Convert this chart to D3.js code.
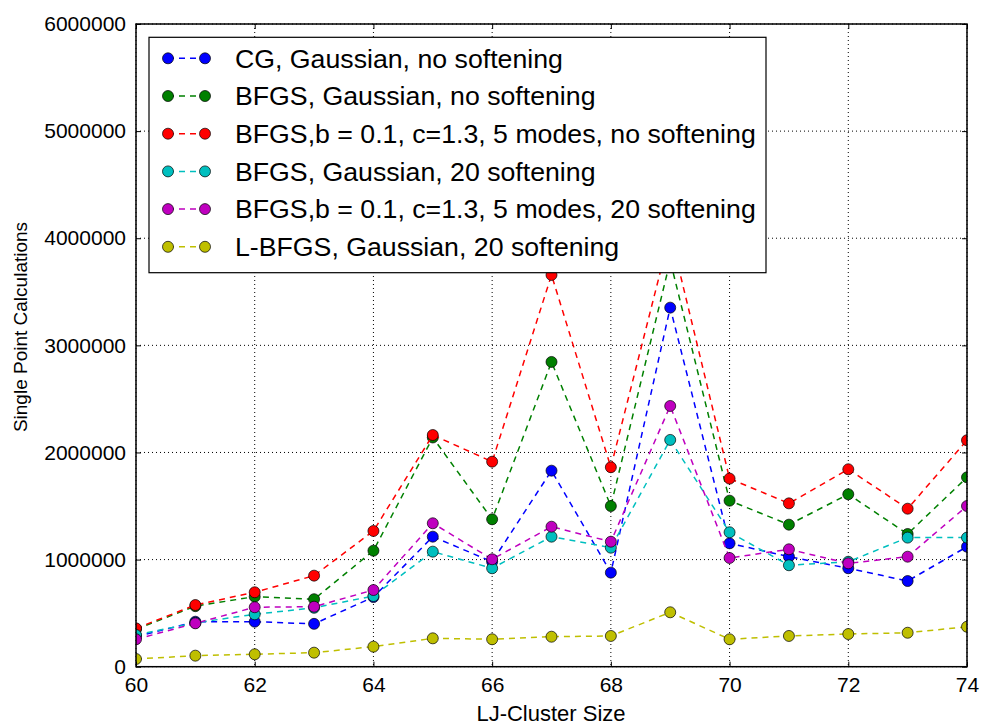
<!DOCTYPE html>
<html>
<head>
<meta charset="utf-8">
<script src="https://cdn.jsdelivr.net/npm/d3@7"></script>
<style>
  html, body { margin: 0; padding: 0; background: #fff; }
  svg { display: block; font-family: "Liberation Sans", Arial, Helvetica, sans-serif; }
</style>
</head>
<body>
<svg id="chart" width="982" height="727"></svg>
<script>
const sizes = [60, 61, 62, 63, 64, 65, 66, 67, 68, 69, 70, 71, 72, 73, 74];
const cgGaussNoSoft    = [0.28, 0.42, 0.42, 0.40, 0.65, 1.214, 0.98, 1.83, 0.878, 3.352, 1.152, 1.027, 0.919, 0.80, 1.12];
const bfgsGaussNoSoft  = [0.35, 0.565, 0.654, 0.63, 1.083, 2.14, 1.376, 2.845, 1.50, 3.79, 1.55, 1.326, 1.61, 1.239, 1.768];
const bfgsModesNoSoft  = [0.358, 0.576, 0.695, 0.85, 1.267, 2.163, 1.914, 3.657, 1.862, 4.05, 1.756, 1.525, 1.843, 1.475, 2.114];
const bfgsGauss20Soft  = [0.296, 0.41, 0.489, 0.55, 0.66, 1.074, 0.919, 1.214, 1.111, 2.117, 1.255, 0.947, 0.98, 1.205, 1.205];
const bfgsModes20Soft  = [0.256, 0.405, 0.555, 0.56, 0.716, 1.339, 1.003, 1.307, 1.167, 2.434, 1.015, 1.096, 0.965, 1.027, 1.50];
const lbfgsGauss20Soft = [0.072, 0.103, 0.116, 0.131, 0.187, 0.265, 0.256, 0.28, 0.287, 0.508, 0.256, 0.287, 0.305, 0.317, 0.373];

const seriesNames = [
  "CG, Gaussian, no softening",
  "BFGS, Gaussian, no softening",
  "BFGS,b = 0.1, c=1.3, 5 modes, no softening",
  "BFGS, Gaussian, 20 softening",
  "BFGS,b = 0.1, c=1.3, 5 modes, 20 softening",
  "L-BFGS, Gaussian, 20 softening"
];
const seriesValues = [cgGaussNoSoft, bfgsGaussNoSoft, bfgsModesNoSoft, bfgsGauss20Soft, bfgsModes20Soft, lbfgsGauss20Soft];
const seriesColors = ["#0000ff", "#008000", "#ff0000", "#00bfbf", "#bf00bf", "#bfbf00"];
const xTicks = [60, 62, 64, 66, 68, 70, 72, 74];
const yTicks = [0, 1000000, 2000000, 3000000, 4000000, 5000000, 6000000];
const xLabel = "LJ-Cluster Size";
const yLabel = "Single Point Calculations";

const svg = d3.select("#chart");
const L = 136, R = 967, T = 24, B = 666.7;
const x = d3.scaleLinear().domain([60, 74]).range([L, R]);
const y = d3.scaleLinear().domain([0, 6000000]).range([B, T]);
const font = "Liberation Sans, Arial, sans-serif";

svg.append("defs").append("clipPath").attr("id", "clip")
  .append("rect").attr("x", L).attr("y", T).attr("width", R - L).attr("height", B - T);

// grid
const grid = svg.append("g");
xTicks.forEach(t => grid.append("line").attr("x1", x(t)).attr("x2", x(t)).attr("y1", T).attr("y2", B)
  .attr("stroke", "#000").attr("stroke-width", 1).attr("stroke-dasharray", "1,3"));
yTicks.forEach(t => grid.append("line").attr("x1", L).attr("x2", R).attr("y1", y(t)).attr("y2", y(t))
  .attr("stroke", "#000").attr("stroke-width", 1).attr("stroke-dasharray", "1,3"));

// series
const plot = svg.append("g").attr("clip-path", "url(#clip)");
const line = d3.line().x((d, i) => x(sizes[i])).y(d => y(d * 1e6));
seriesValues.forEach((vals, si) => {
  plot.append("path").datum(vals).attr("d", line).attr("fill", "none")
    .attr("stroke", seriesColors[si]).attr("stroke-width", 1.5).attr("stroke-dasharray", "6,5");
  plot.selectAll(null).data(vals).enter().append("circle")
    .attr("cx", (d, i) => x(sizes[i])).attr("cy", d => y(d * 1e6)).attr("r", 5.5)
    .attr("fill", seriesColors[si]).attr("stroke", "#000").attr("stroke-width", 0.7);
});

// axes (inward ticks on all sides)
const tl = 5;
const axBottom = d3.axisBottom(x).tickValues(xTicks).tickSizeInner(-tl).tickSizeOuter(0).tickPadding(10);
const axTop = d3.axisTop(x).tickValues(xTicks).tickSizeInner(-tl).tickSizeOuter(0).tickFormat("");
const axLeft = d3.axisLeft(y).tickValues(yTicks).tickSizeInner(-tl).tickSizeOuter(0).tickPadding(10).tickFormat(d3.format("d"));
const axRight = d3.axisRight(y).tickValues(yTicks).tickSizeInner(-tl).tickSizeOuter(0).tickFormat("");

function style(g) {
  g.select(".domain").remove();
  g.selectAll("line").attr("stroke", "#000").attr("stroke-width", 1);
  g.selectAll("text").attr("font-size", 21).attr("fill", "#000").attr("font-family", font);
}
svg.append("g").attr("transform", `translate(0,${B})`).call(axBottom).call(style);
svg.append("g").attr("transform", `translate(0,${T})`).call(axTop).call(style);
svg.append("g").attr("transform", `translate(${L},0)`).call(axLeft).call(style);
svg.append("g").attr("transform", `translate(${R},0)`).call(axRight).call(style);

// frame
svg.append("rect").attr("x", L).attr("y", T).attr("width", R - L).attr("height", B - T)
  .attr("fill", "none").attr("stroke", "#000").attr("stroke-width", 1.5);

// axis labels
svg.append("text").attr("x", 551).attr("y", 720.5).attr("text-anchor", "middle")
  .attr("font-size", 22).attr("font-family", font).text(xLabel);
svg.append("text").attr("transform", `translate(27,327) rotate(-90)`).attr("text-anchor", "middle")
  .attr("font-size", 19).attr("font-family", font).text(yLabel);

// legend
const lg = svg.append("g");
lg.append("rect").attr("x", 149).attr("y", 37.3).attr("width", 766 - 149).attr("height", 272.7 - 37.3)
  .attr("fill", "#fff").attr("stroke", "#000").attr("stroke-width", 1.2);
seriesNames.forEach((name, i) => {
  const cy = 58.3 + i * 37.7;
  lg.append("line").attr("x1", 168).attr("x2", 205).attr("y1", cy).attr("y2", cy)
    .attr("stroke", seriesColors[i]).attr("stroke-width", 1.5).attr("stroke-dasharray", "6,5");
  [168, 205].forEach(cx => lg.append("circle").attr("cx", cx).attr("cy", cy).attr("r", 5.5)
    .attr("fill", seriesColors[i]).attr("stroke", "#000").attr("stroke-width", 0.7));
  lg.append("text").attr("x", 235).attr("y", cy).attr("dy", "0.35em")
    .attr("font-size", 26.7).attr("font-family", font).text(name);
});
</script>
</body>
</html>
